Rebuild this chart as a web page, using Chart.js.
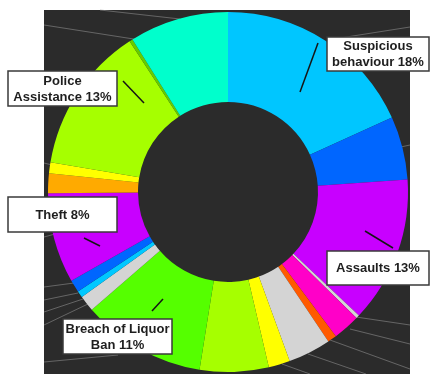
<!DOCTYPE html>
<html>
<head>
<meta charset="utf-8">
<script src="https://cdn.jsdelivr.net/npm/chart.js@4.4.1/dist/chart.umd.min.js"></script>
<style>
    html, body { margin: 0; padding: 0; background: #ffffff; }
    #wrap { width: 432px; height: 374px; position: relative; }
</style>
</head>
<body>
<div id="wrap"><canvas id="incident-donut" width="432" height="374"></canvas></div>
<script>
// Incident categories, clockwise from 12 o'clock
const categories = [
    'Suspicious behaviour', 'Other 1', 'Assaults', 'Other 2', 'Other 3', 'Other 4',
    'Other 5', 'Other 6', 'Other 7', 'Breach of Liquor Ban', 'Other 8', 'Other 9',
    'Other 10', 'Theft', 'Other 11', 'Other 12', 'Police Assistance', 'Other 13', 'Other 14'
];
// share of incidents, %
const shares = [
    18, 5.6, 13, 0.3, 2.4, 0.8,
    3.8, 1.9, 6.1, 11, 1.4, 0.6,
    1.1, 8, 1.75, 0.95, 13, 0.3, 8.8
];
const sliceColors = [
    '#00c6ff', '#0066ff', '#c800ff', '#d4d4d4', '#ff00c8', '#ff5a00',
    '#d4d4d4', '#ffff00', '#a6ff00', '#55ff00', '#d4d4d4', '#00c8ff',
    '#0066ff', '#c800ff', '#ffaa00', '#ffff00', '#a6ff00', '#66cc00', '#00ffcc'
];

// callout boxes: which slice, where the box sits, where the line goes
const callouts = [
    { slice: 0,  breakAfter: 1, box: [327, 37, 102, 34],  line: [300, 92, 318, 43] },
    { slice: 16, breakAfter: 1, box: [8, 71, 109, 35],    line: [144, 103, 123, 81] },
    { slice: 13, breakAfter: 0, box: [8, 197, 109, 35],   line: [100, 246, 84, 238] },
    { slice: 2,  breakAfter: 0, box: [327, 251, 102, 34], line: [365, 231, 393, 248] },
    { slice: 9,  breakAfter: 3, box: [63, 319, 109, 35],  line: [152, 311, 163, 299] }
];

// faint guide lines left in the dark panel behind the ring
const guideLines = [
    [44, 25, 140, 40], [100, 10, 180, 19], [340, 38, 410, 27], [396, 148, 410, 145],
    [44, 163, 52, 165], [44, 237, 55, 234], [44, 287, 74, 283], [44, 300, 78, 293],
    [44, 312, 83, 299], [44, 325, 90, 303], [44, 362, 118, 355], [356, 317, 410, 325],
    [350, 329, 410, 344], [330, 340, 410, 369], [308, 354, 366, 374], [282, 364, 310, 374]
];

function calloutLines(c) {
    const words = (categories[c.slice] + ' ' + shares[c.slice] + '%').split(' ');
    if (!c.breakAfter) return [words.join(' ')];
    return [words.slice(0, c.breakAfter).join(' '), words.slice(c.breakAfter).join(' ')];
}

const panelPlugin = {
    id: 'panel',
    beforeDraw(chart) {
        const ctx = chart.ctx;
        ctx.save();
        ctx.fillStyle = '#2b2b2b';
        ctx.fillRect(44, 10, 366, 364);
        ctx.strokeStyle = 'rgba(150,150,150,0.55)';
        ctx.lineWidth = 1;
        guideLines.forEach(g => {
            ctx.beginPath();
            ctx.moveTo(g[0], g[1]);
            ctx.lineTo(g[2], g[3]);
            ctx.stroke();
        });
        ctx.restore();
    },
    afterDatasetsDraw(chart) {
        const ctx = chart.ctx;
        ctx.save();
        callouts.forEach(c => {
            const [x1, y1, x2, y2] = c.line;
            ctx.strokeStyle = '#151515';
            ctx.lineWidth = 1.5;
            ctx.beginPath();
            ctx.moveTo(x1, y1);
            ctx.lineTo(x2, y2);
            ctx.stroke();

            const [bx, by, bw, bh] = c.box;
            ctx.fillStyle = '#ffffff';
            ctx.fillRect(bx, by, bw, bh);
            ctx.strokeStyle = '#3a3a3a';
            ctx.lineWidth = 1.5;
            ctx.strokeRect(bx, by, bw, bh);

            const lines = calloutLines(c);
            ctx.fillStyle = '#1e1e1e';
            ctx.font = 'bold 13px "Liberation Sans", Arial, sans-serif';
            ctx.textAlign = 'center';
            ctx.textBaseline = 'middle';
            const lineH = 16;
            const top = by + bh / 2 - (lines.length - 1) * lineH / 2;
            lines.forEach((t, i) => ctx.fillText(t, bx + bw / 2, top + i * lineH + 0.5));
        });
        ctx.restore();
    }
};

new Chart(document.getElementById('incident-donut'), {
    type: 'doughnut',
    data: {
        labels: categories,
        datasets: [{
            data: shares,
            backgroundColor: sliceColors,
            borderWidth: 0
        }]
    },
    options: {
        responsive: false,
        animation: false,
        cutout: '50%',
        layout: { padding: { left: 48, right: 24, top: 12, bottom: 2 } },
        plugins: {
            legend: { display: false },
            tooltip: { enabled: false }
        }
    },
    plugins: [panelPlugin]
});
</script>
</body>
</html>
